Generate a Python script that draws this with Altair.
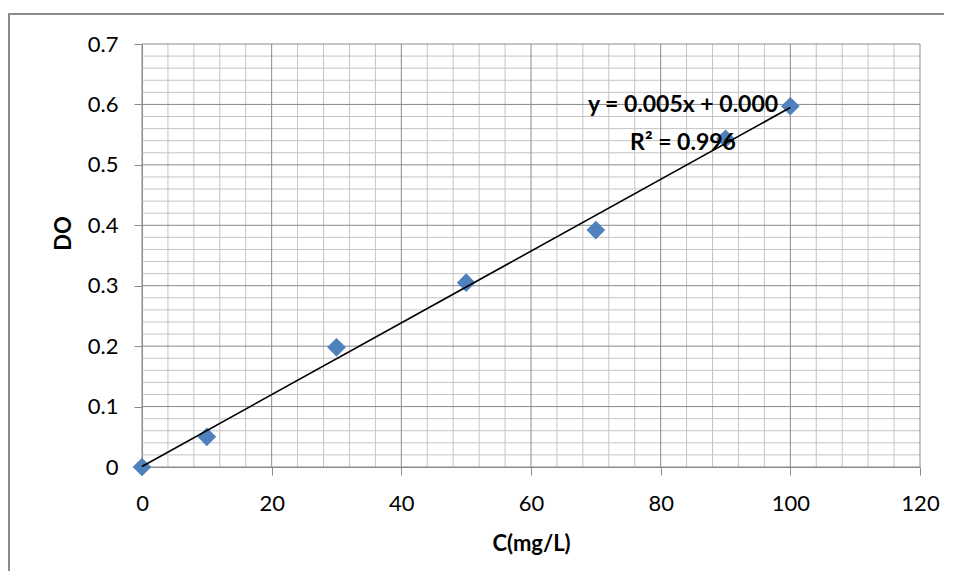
import altair as alt
import pandas as pd

# data
conc = [0, 10, 30, 50, 70, 90, 100]
do_vals = [0.0, 0.05, 0.198, 0.305, 0.392, 0.543, 0.597]

x_ticks = [0, 20, 40, 60, 80, 100, 120]
y_ticks = [0, 0.1, 0.2, 0.3, 0.4, 0.5, 0.6, 0.7]
x_minor = [v for v in range(0, 121, 4) if v % 20 != 0]
y_minor = [round(i * 0.02, 2) for i in range(36) if i % 5 != 0]

eq_text = "y = 0.005x + 0.000"
r2_text = "R² = 0.996"

FONT = "Lato"
MAJOR = "#8a8a8a"
MINOR = "#c4c4c4"

W, H = 778, 423

df = pd.DataFrame({"C": conc, "DO": do_vals})
xs = alt.Scale(domain=[0, 120], nice=False, zero=False)
ys = alt.Scale(domain=[0, 0.7], nice=False, zero=False)

minor_v = alt.Chart(pd.DataFrame({"g": x_minor})).mark_rule(color=MINOR, strokeWidth=1).encode(
    x=alt.X("g:Q", scale=xs))
minor_h = alt.Chart(pd.DataFrame({"g": y_minor})).mark_rule(color=MINOR, strokeWidth=1).encode(
    y=alt.Y("g:Q", scale=ys))
major_v = alt.Chart(pd.DataFrame({"g": x_ticks})).mark_rule(color=MAJOR, strokeWidth=1).encode(
    x=alt.X("g:Q", scale=xs))
major_h = alt.Chart(pd.DataFrame({"g": y_ticks})).mark_rule(color=MAJOR, strokeWidth=1).encode(
    y=alt.Y("g:Q", scale=ys))

points = alt.Chart(df).mark_point(shape="diamond", filled=True, size=350,
                                  color="#4F81BD", opacity=1).encode(
    x=alt.X("C:Q", scale=xs,
            axis=alt.Axis(values=x_ticks, format="d", title="C(mg/L)", grid=False,
                          domainColor=MAJOR, tickColor=MAJOR, tickSize=8,
                          labelFont=FONT, labelFontSize=22, labelColor="black",
                          labelPadding=18, labelFlush=False,
                          titleFont=FONT, titleFontSize=22, titleFontWeight="bold",
                          titleColor="black", titleBaseline="middle", titleY=76)),
    y=alt.Y("DO:Q", scale=ys,
            axis=alt.Axis(values=y_ticks, format=".1~f", title="DO", grid=False,
                          domainColor=MAJOR, tickColor=MAJOR, tickSize=8,
                          labelFont=FONT, labelFontSize=22, labelColor="black",
                          labelPadding=16, labelFlush=False,
                          titleFont=FONT, titleFontSize=22, titleFontWeight="bold",
                          titleColor="black", titleAngle=-90, titleBaseline="middle",
                          titleX=-79, titleY=189)),
)

trend = alt.Chart(df).transform_regression("C", "DO", extent=[0, 100]).mark_line(
    color="black", strokeWidth=1.6).encode(
    x=alt.X("C:Q", scale=xs), y=alt.Y("DO:Q", scale=ys))

eq = alt.Chart(pd.DataFrame({"t": [eq_text]})).mark_text(
    font=FONT, fontSize=23, fontWeight="bold", color="black", align="center",
    baseline="middle").encode(text="t:N", x=alt.value(541), y=alt.value(61))
r2 = alt.Chart(pd.DataFrame({"t": [r2_text]})).mark_text(
    font=FONT, fontSize=23, fontWeight="bold", color="black", align="center",
    baseline="middle").encode(text="t:N", x=alt.value(541), y=alt.value(99))

border = alt.Chart(pd.DataFrame({"a": [0]})).mark_rect(
    fill=None, stroke="#8a8a8a", strokeWidth=2).encode(
    x=alt.value(-133), y=alt.value(-30), x2=alt.value(W + 60), y2=alt.value(H + 150))

chart = alt.layer(border, minor_v, minor_h, major_v, major_h, points, trend, eq, r2).properties(
    width=W, height=H,
    autosize=alt.AutoSizeParams(type="none"),
    padding={"left": 134, "top": 36, "right": 24, "bottom": 104},
).configure_view(stroke=None)

chart.save("out.html", embed_options={"renderer": "svg", "actions": False})
